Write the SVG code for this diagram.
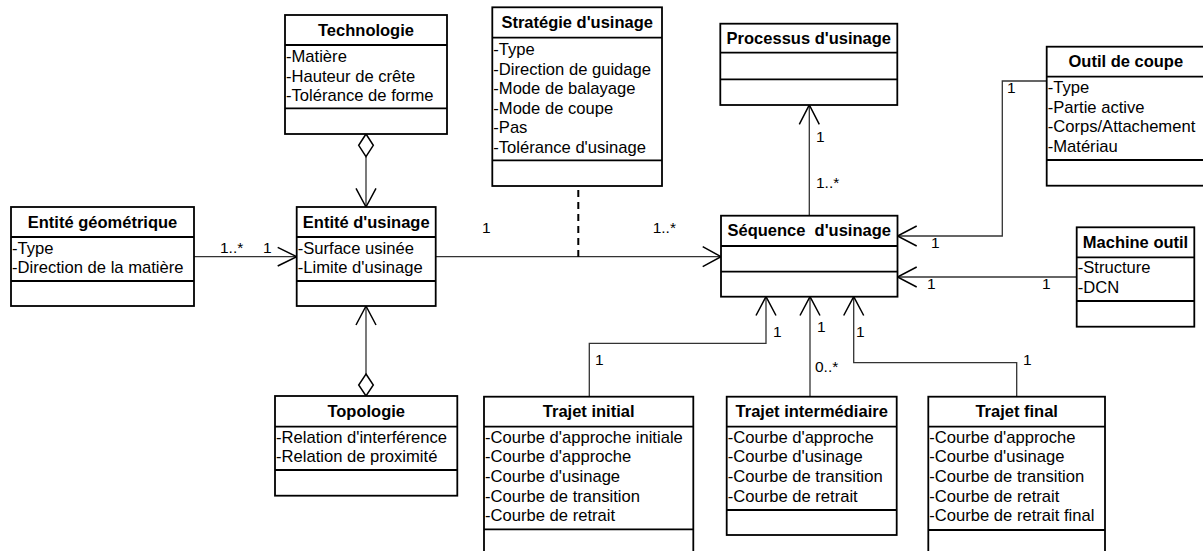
<svg xmlns="http://www.w3.org/2000/svg" width="1203" height="551" viewBox="0 0 1203 551">
<style>
.box{fill:#fff;stroke:#000;stroke-width:1.8}
.sep{stroke:#000;stroke-width:1.8}
.t{font-family:"Liberation Sans",Arial,sans-serif;font-size:16.5px;font-weight:bold;text-anchor:middle;fill:#000}
.a{font-family:"Liberation Sans",Arial,sans-serif;font-size:16.6px;fill:#000}
.l{font-family:"Liberation Sans",Arial,sans-serif;font-size:15.5px;fill:#000}
.c{fill:none;stroke:#333;stroke-width:1.3}
.ar{fill:none;stroke:#000;stroke-width:1.5}
.dm{fill:#fff;stroke:#000;stroke-width:1.5}
</style>
<rect width="1203" height="551" fill="#fff"/>

<g id="connectors">
  <line class="c" x1="194" y1="256.7" x2="296.7" y2="256.7"/>
  <polyline class="ar" points="277.7,247.3 296.7,256.7 277.7,266"/>
  <text class="l" x="220" y="253">1..*</text>
  <text class="l" x="263" y="253">1</text>
  <line class="c" x1="366" y1="156.7" x2="366" y2="207"/>
  <polygon class="dm" points="366,134 373.3,145.3 366,156.7 358.7,145.3"/>
  <polyline class="ar" points="356,188.3 366,207 376,188.3"/>
  <line class="c" x1="366" y1="306" x2="366" y2="374"/>
  <polyline class="ar" points="356,325 366,306 376,325"/>
  <polygon class="dm" points="366,374 373.3,385 366,396 358.7,385"/>
  <line class="c" x1="435.7" y1="256.7" x2="721" y2="256.7"/>
  <polyline class="ar" points="702.7,246.7 721,256.7 702.7,266.7"/>
  <text class="l" x="482" y="233">1</text>
  <text class="l" x="652.7" y="233">1..*</text>
  <line x1="578.3" y1="190" x2="578.3" y2="256.7" stroke="#000" stroke-width="2" stroke-dasharray="7,5"/>
  <line class="c" x1="809.3" y1="215.7" x2="809.3" y2="105"/>
  <polyline class="ar" points="799.3,124.3 809.3,105 819.3,124.3"/>
  <text class="l" x="816" y="141.5">1</text>
  <text class="l" x="816" y="188.3">1..*</text>
  <polyline class="c" points="1046.7,81 1002.3,81 1002.3,236 897.5,236"/>
  <polyline class="ar" points="916.7,226 897.5,236 916.7,246"/>
  <text class="l" x="1007" y="93">1</text>
  <text class="l" x="931" y="248.3">1</text>
  <line class="c" x1="1076.7" y1="277" x2="897.5" y2="277"/>
  <polyline class="ar" points="916.7,267 897.5,277 916.7,287"/>
  <text class="l" x="927" y="289.3">1</text>
  <text class="l" x="1042" y="289.3">1</text>
  <polyline class="c" points="589.3,396.7 589.3,343.3 766,343.3 766,296.7"/>
  <polyline class="ar" points="756,315.5 766,296.7 776,315.5"/>
  <text class="l" x="773" y="337.3">1</text>
  <text class="l" x="595" y="365">1</text>
  <line class="c" x1="810" y1="396.7" x2="810" y2="296.7"/>
  <polyline class="ar" points="800,315.5 810,296.7 820,315.5"/>
  <text class="l" x="817" y="332.3">1</text>
  <text class="l" x="815" y="371.7">0..*</text>
  <polyline class="c" points="1016.7,396.7 1016.7,362.7 853.7,362.7 853.7,296.7"/>
  <polyline class="ar" points="843.7,315.5 853.7,296.7 863.7,315.5"/>
  <text class="l" x="856" y="337.3">1</text>
  <text class="l" x="1023" y="365">1</text>
</g>

<g id="technologie">
  <rect class="box" x="285" y="15" width="162" height="119"/>
  <line class="sep" x1="285" y1="45" x2="447" y2="45"/>
  <line class="sep" x1="285" y1="108.3" x2="447" y2="108.3"/>
  <text class="t" x="366" y="35.5">Technologie</text>
  <text class="a" x="286" y="62.3">-Matière</text>
  <text class="a" x="286" y="81.6">-Hauteur de crête</text>
  <text class="a" x="286" y="100.9">-Tolérance de forme</text>
</g>

<g id="entite-geometrique">
  <rect class="box" x="11" y="207" width="183" height="99"/>
  <line class="sep" x1="11" y1="237" x2="194" y2="237"/>
  <line class="sep" x1="11" y1="281" x2="194" y2="281"/>
  <text class="t" x="102.5" y="227.5">Entité géométrique</text>
  <text class="a" x="12" y="254">-Type</text>
  <text class="a" x="12" y="273.3">-Direction de la matière</text>
</g>

<g id="entite-usinage">
  <rect class="box" x="296.7" y="207" width="139" height="99"/>
  <line class="sep" x1="296.7" y1="237" x2="435.7" y2="237"/>
  <line class="sep" x1="296.7" y1="281" x2="435.7" y2="281"/>
  <text class="t" x="366.2" y="227.5">Entité d'usinage</text>
  <text class="a" x="297.7" y="254">-Surface usinée</text>
  <text class="a" x="297.7" y="273.3">-Limite d'usinage</text>
</g>

<g id="topologie">
  <rect class="box" x="275" y="396" width="182.3" height="99.7"/>
  <line class="sep" x1="275" y1="426.7" x2="457.3" y2="426.7"/>
  <line class="sep" x1="275" y1="470" x2="457.3" y2="470"/>
  <text class="t" x="366.2" y="416.7">Topologie</text>
  <text class="a" x="276" y="442.7">-Relation d'interférence</text>
  <text class="a" x="276" y="462.3">-Relation de proximité</text>
</g>

<g id="strategie">
  <rect class="box" x="492.3" y="7.3" width="169.7" height="178.7"/>
  <line class="sep" x1="492.3" y1="37.7" x2="662" y2="37.7"/>
  <line class="sep" x1="492.3" y1="160.3" x2="662" y2="160.3"/>
  <text class="t" x="577.2" y="27.8">Stratégie d'usinage</text>
  <text class="a" x="493.3" y="55">-Type</text>
  <text class="a" x="493.3" y="74.5">-Direction de guidage</text>
  <text class="a" x="493.3" y="94">-Mode de balayage</text>
  <text class="a" x="493.3" y="113.5">-Mode de coupe</text>
  <text class="a" x="493.3" y="133">-Pas</text>
  <text class="a" x="493.3" y="152.5">-Tolérance d'usinage</text>
</g>

<g id="processus">
  <rect class="box" x="720.3" y="23.7" width="177" height="81.3"/>
  <line class="sep" x1="720.3" y1="52.7" x2="897.3" y2="52.7"/>
  <line class="sep" x1="720.3" y1="79.3" x2="897.3" y2="79.3"/>
  <text class="t" x="808.8" y="44">Processus d'usinage</text>
</g>

<g id="sequence">
  <rect class="box" x="721" y="215.7" width="176.5" height="81"/>
  <line class="sep" x1="721" y1="246" x2="897.5" y2="246"/>
  <line class="sep" x1="721" y1="271.7" x2="897.5" y2="271.7"/>
  <text class="t" x="809.2" y="236" xml:space="preserve">Séquence  d'usinage</text>
</g>

<g id="outil-coupe">
  <rect class="box" x="1046.7" y="46.7" width="158.3" height="139"/>
  <line class="sep" x1="1046.7" y1="76.7" x2="1205" y2="76.7"/>
  <line class="sep" x1="1046.7" y1="160" x2="1205" y2="160"/>
  <text class="t" x="1125.8" y="67">Outil de coupe</text>
  <text class="a" x="1047.7" y="93.3">-Type</text>
  <text class="a" x="1047.7" y="112.7">-Partie active</text>
  <text class="a" x="1047.7" y="132">-Corps/Attachement</text>
  <text class="a" x="1047.7" y="151.5">-Matériau</text>
</g>

<g id="machine-outil">
  <rect class="box" x="1076.7" y="227.3" width="117.6" height="99.4"/>
  <line class="sep" x1="1076.7" y1="257.3" x2="1194.3" y2="257.3"/>
  <line class="sep" x1="1076.7" y1="301" x2="1194.3" y2="301"/>
  <text class="t" x="1135.5" y="247.5">Machine outil</text>
  <text class="a" x="1077.7" y="273.3">-Structure</text>
  <text class="a" x="1077.7" y="293">-DCN</text>
</g>

<g id="trajet-initial">
  <rect class="box" x="484" y="396.7" width="209.3" height="170"/>
  <line class="sep" x1="484" y1="426.7" x2="693.3" y2="426.7"/>
  <line class="sep" x1="484" y1="529.3" x2="693.3" y2="529.3"/>
  <text class="t" x="588.7" y="417">Trajet initial</text>
  <text class="a" x="485" y="442.5">-Courbe d'approche initiale</text>
  <text class="a" x="485" y="462.2">-Courbe d'approche</text>
  <text class="a" x="485" y="481.9">-Courbe d'usinage</text>
  <text class="a" x="485" y="501.6">-Courbe de transition</text>
  <text class="a" x="485" y="521.3">-Courbe de retrait</text>
</g>

<g id="trajet-intermediaire">
  <rect class="box" x="726.7" y="396.7" width="170" height="138.3"/>
  <line class="sep" x1="726.7" y1="426.7" x2="896.7" y2="426.7"/>
  <line class="sep" x1="726.7" y1="510" x2="896.7" y2="510"/>
  <text class="t" x="811.7" y="417">Trajet intermédiaire</text>
  <text class="a" x="727.7" y="442.5">-Courbe d'approche</text>
  <text class="a" x="727.7" y="462.2">-Courbe d'usinage</text>
  <text class="a" x="727.7" y="481.9">-Courbe de transition</text>
  <text class="a" x="727.7" y="501.6">-Courbe de retrait</text>
</g>

<g id="trajet-final">
  <rect class="box" x="928.3" y="396.7" width="176.7" height="170"/>
  <line class="sep" x1="928.3" y1="426.7" x2="1105" y2="426.7"/>
  <line class="sep" x1="928.3" y1="530" x2="1105" y2="530"/>
  <text class="t" x="1016.7" y="417">Trajet final</text>
  <text class="a" x="929.3" y="442.5">-Courbe d'approche</text>
  <text class="a" x="929.3" y="462.2">-Courbe d'usinage</text>
  <text class="a" x="929.3" y="481.9">-Courbe de transition</text>
  <text class="a" x="929.3" y="501.6">-Courbe de retrait</text>
  <text class="a" x="929.3" y="521.3">-Courbe de retrait final</text>
</g>
</svg>
